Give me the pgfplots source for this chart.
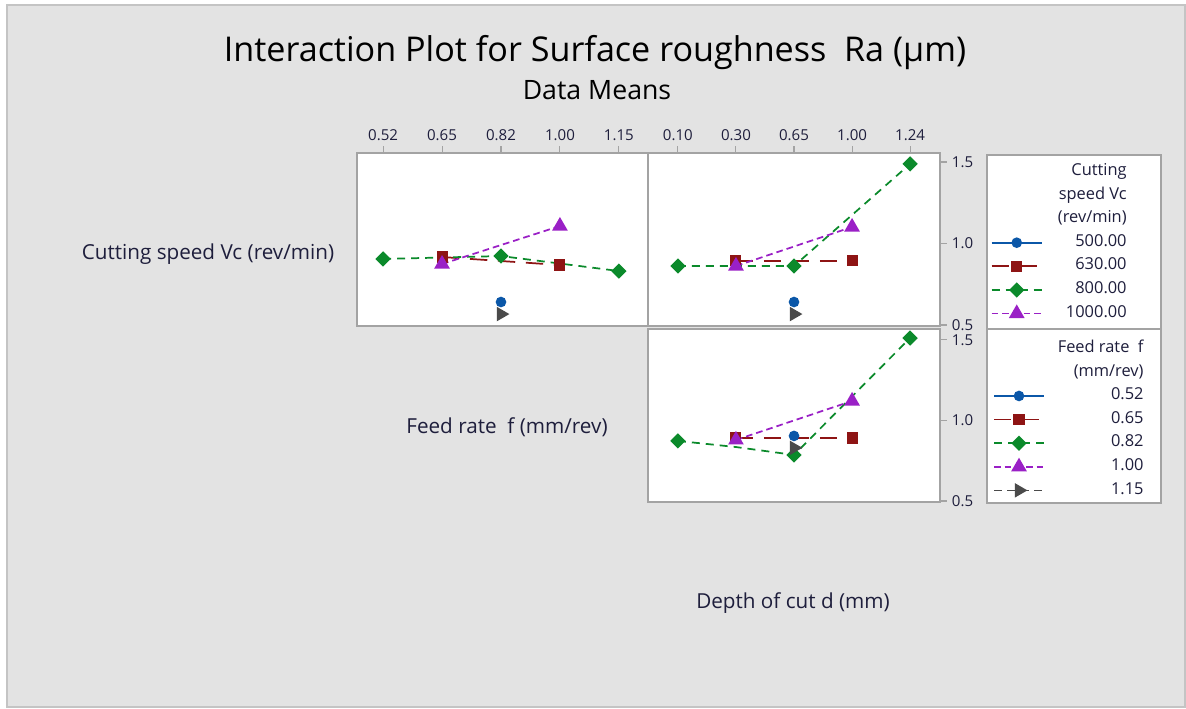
\documentclass[border=0pt]{standalone}
\usepackage{pgfplots}
\pgfplotsset{compat=1.18}
\usepackage{fontspec}
\setmainfont{Open Sans}

\definecolor{bggray}{HTML}{E3E3E3}
\definecolor{framegray}{HTML}{C4C4C4}
\definecolor{axgray}{HTML}{A3A3A3}
\definecolor{labcol}{HTML}{1E1E3C}
\definecolor{cblue}{HTML}{0B57A8}
\definecolor{cred}{HTML}{8E1414}
\definecolor{cgreen}{HTML}{0B8A2B}
\definecolor{cpurple}{HTML}{9A20C6}
\definecolor{cgray}{HTML}{4A4A4A}

\pgfplotsset{
  panel/.style={
    scale only axis,
    width=219pt, height=129.75pt,
    axis background/.style={fill=white},
    axis line style={draw=axgray, line width=1.1pt},
    tick style={draw=axgray, line width=0.8pt},
    tick align=outside,
    major tick length=5pt,
    ticklabel style={font=\fontsize{11.3}{13}\selectfont, text=labcol},
    /pgf/number format/assume math mode=true,
    clip=false,
    line width=1.3pt,
  },
  s500/.style={color=cblue, solid, mark=*, mark size=3.3pt, mark options={solid}},
  s630/.style={color=cred, dash pattern=on 13pt off 8pt, mark=square*, mark size=3.5pt, mark options={solid}},
  s800/.style={color=cgreen, dash pattern=on 6pt off 4.5pt, mark=square*, mark size=3.4pt, mark options={solid, rotate=45}},
  s1000/.style={color=cpurple, dash pattern=on 5pt off 3pt, mark=triangle*, mark size=5.5pt, mark options={solid}},
  s115/.style={color=cgray, dash pattern=on 6pt off 4pt, mark=triangle*, mark size=5pt, mark options={solid, rotate=-90}},
  panellegend/.style={
    legend style={draw=none, fill=none, inner sep=0pt,
      font=\fontsize{12.3}{14}\selectfont, text=labcol,
      cells={anchor=east},
      nodes={inner sep=0pt, text height=8.5pt, text depth=3pt},
      row sep=6.2pt, column sep=5pt},
    legend image code/.code={%
      \draw[mark repeat=2, mark phase=2] plot coordinates {(0pt,0pt) (18.75pt,0pt) (37.5pt,0pt)};},
  },
}

\begin{document}
\begin{tikzpicture}[x=0.75pt, y=0.75pt]
\path[use as bounding box] (0,0) rectangle (1186,709);
\filldraw[fill=bggray, draw=framegray, line width=1.2pt] (7,2) rectangle (1185,704);

% legend frames
\filldraw[fill=white, draw=axgray, line width=1.1pt] (987,{709-155}) rectangle (1161,{709-503});
\draw[axgray, line width=1.1pt] (987,{709-329}) -- (1161,{709-329});

% Cutting speed vs feed rate
\begin{axis}[panel,
  at={(267.75pt,287.25pt)}, anchor=south west,
  xmin=-0.4426, xmax=4.511, ymin=0.4939, ymax=1.5552,
  xtick={0,1,2,3,4}, xticklabels={0.52,0.65,0.82,1.00,1.15},
  xtick pos=right, xticklabel pos=right,
  ytick=\empty]
\addplot[s500] coordinates {(2,0.641)};
\addplot[s630] coordinates {(1,0.917) (3,0.868)};
\addplot[s800] coordinates {(0,0.905) (2,0.923) (4,0.831)};
\addplot[s1000] coordinates {(1,0.874) (3,1.107)};
\addplot[s115] coordinates {(2,0.567)};
\end{axis}

% Cutting speed vs depth of cut
\begin{axis}[panel, panellegend,
  at={(486pt,287.25pt)}, anchor=south west,
  xmin=-0.515, xmax=4.515, ymin=0.4939, ymax=1.5552,
  xtick={0,1,2,3,4}, xticklabels={0.10,0.30,0.65,1.00,1.24},
  xtick pos=right, xticklabel pos=right,
  ytick={0.5,1.0,1.5}, yticklabels={0.5,1.0,1.5},
  ytick pos=right, yticklabel pos=right,
  legend style={at={(1.642,0.94)}, anchor=north east}]
\addlegendimage{empty legend}\addlegendentry{\makebox[58pt][r]{Cutting}}
\addlegendimage{empty legend}\addlegendentry{\makebox[58pt][r]{speed Vc}}
\addlegendimage{empty legend}\addlegendentry{\makebox[58pt][r]{(rev/min)}}
\addplot[s500] coordinates {(2,0.641)};
\addlegendentry{\makebox[58pt][r]{500.00}}
\addplot[s630] coordinates {(1,0.893) (3,0.893)};
\addlegendentry{\makebox[58pt][r]{630.00}}
\addplot[s800] coordinates {(0,0.862) (2,0.862) (4,1.488)};
\addlegendentry{\makebox[58pt][r]{800.00}}
\addplot[s1000] coordinates {(1,0.862) (3,1.101)};
\addlegendentry{\makebox[58pt][r]{1000.00}}
\addplot[s115, forget plot] coordinates {(2,0.567)};
\end{axis}

% Feed rate vs depth of cut
\begin{axis}[panel, panellegend,
  at={(486pt,155.25pt)}, anchor=south west,
  xmin=-0.515, xmax=4.515, ymin=0.4938, ymax=1.568,
  xtick=\empty,
  ytick={0.5,1.0,1.5}, yticklabels={0.5,1.0,1.5},
  ytick pos=right, yticklabel pos=right,
  legend style={at={(1.70,0.935)}, anchor=north east}]
\addlegendimage{empty legend}\addlegendentry{\makebox[69pt][r]{Feed rate\ \ f}}
\addlegendimage{empty legend}\addlegendentry{\makebox[69pt][r]{(mm/rev)}}
\addplot[s500] coordinates {(2,0.904)};
\addlegendentry{\makebox[69pt][r]{0.52}}
\addplot[s630] coordinates {(1,0.891) (3,0.891)};
\addlegendentry{\makebox[69pt][r]{0.65}}
% the 0.82 line passes a level hidden under the 1.00 marker
\addplot[s800, mark=none, forget plot] coordinates {(0,0.873) (1,0.835) (2,0.786) (4,1.512)};
\addplot[s800, only marks, forget plot] coordinates {(0,0.873) (2,0.786) (4,1.512)};
\addlegendimage{s800}
\addlegendentry{\makebox[69pt][r]{0.82}}
\addplot[s1000] coordinates {(1,0.879) (3,1.121)};
\addlegendentry{\makebox[69pt][r]{1.00}}
\addplot[s115] coordinates {(2,0.830)};
\addlegendentry{\makebox[69pt][r]{1.15}}
\end{axis}

% titles and factor labels
\node[text=black, font=\fontsize{25.6}{30}\selectfont] at (595,{709-53}) {Interaction Plot for Surface roughness\ \ Ra (µm)};
\node[text=black, font=\fontsize{20}{24}\selectfont] at (597,{709-90}) {Data Means};
\node[text=labcol, font=\fontsize{15.5}{18}\selectfont] at (208,{709-254}) {Cutting speed Vc (rev/min)};
\node[text=labcol, font=\fontsize{15.5}{18}\selectfont] at (507,{709-427}) {Feed rate\ \ f (mm/rev)};
\node[text=labcol, font=\fontsize{15.5}{18}\selectfont] at (793,{709-603}) {Depth of cut d (mm)};
\end{tikzpicture}
\end{document}
